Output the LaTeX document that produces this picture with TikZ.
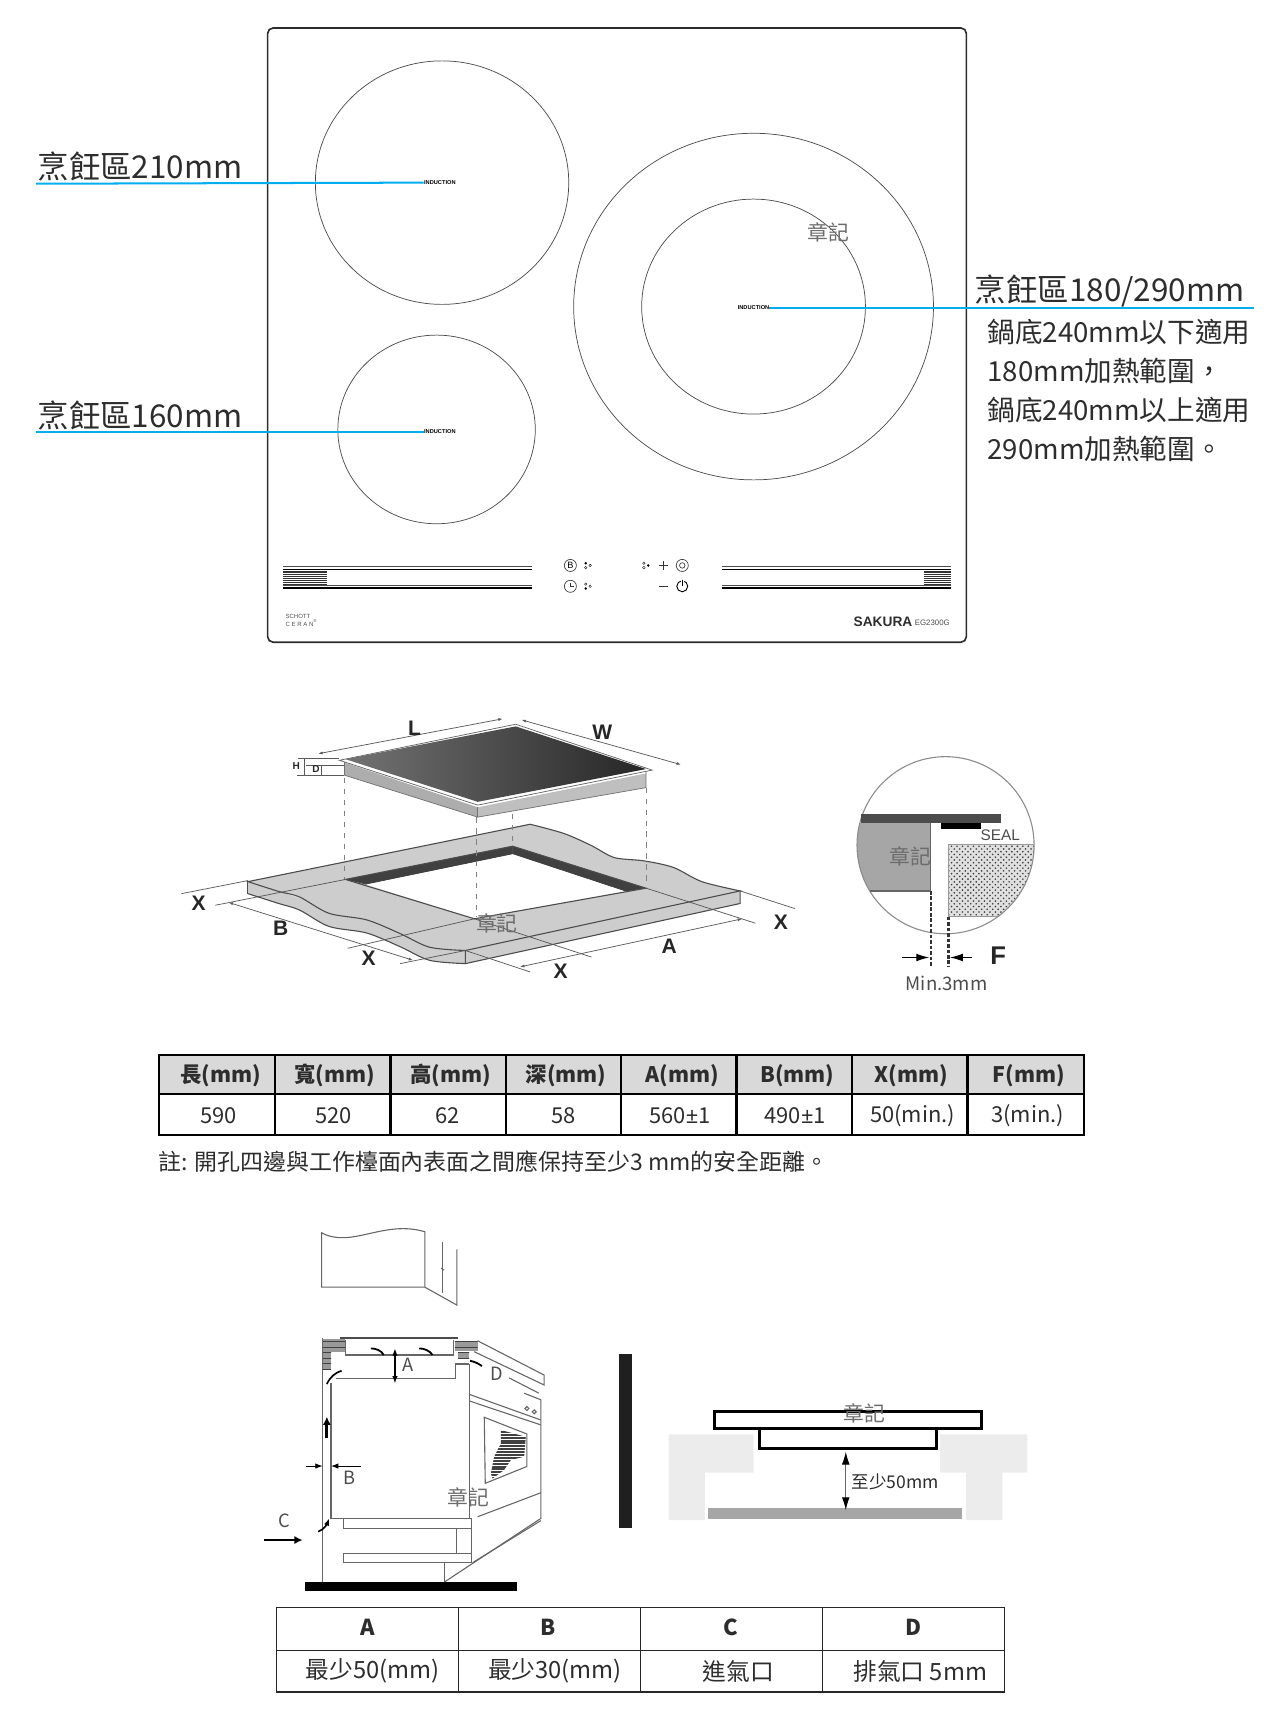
\documentclass[tikz,border=0pt]{standalone}
\usepackage{fontspec}
\usepackage{tikz}
\usepackage{xcolor}
\usetikzlibrary{patterns,arrows.meta}
\setmainfont{Noto Sans CJK TC}
\newfontfamily\arialfont{Liberation Sans}
\newfontfamily\latinfont{Noto Sans}
\definecolor{leaderblue}{RGB}{0,174,239}
\definecolor{inkgray}{RGB}{45,45,45}
\definecolor{cellgray}{RGB}{217,217,217}
\definecolor{wallgray}{RGB}{236,236,236}
\definecolor{counter}{RGB}{205,205,205}

\begin{document}
\begin{tikzpicture}[x=0.6pt,y=-0.6pt,
    smalltip/.tip={Latex[length=2.5pt,width=1.6pt]},
    midtip/.tip={Latex[length=4pt,width=3pt]},
    widetip/.tip={Latex[length=4.5pt,width=4.5pt]},
    bigtip/.tip={Latex[length=7pt,width=4.2pt]},
    leader/.style={leaderblue,line width=1.1pt},
    zonetxt/.style={anchor=west,inner sep=0pt,inkgray,font=\fontsize{17.2}{20}\selectfont},
    induction/.style={inner sep=0pt,font=\arialfont\bfseries\fontsize{3.1}{4}\selectfont},
    stamp/.style={inner sep=0pt,gray!85!black,font=\fontsize{11.4}{13}\selectfont},
    keytxt/.style={inner sep=0pt,black!85,font=\arialfont\bfseries\fontsize{11.5}{13}\selectfont},
    dimline/.style={black!65,line width=0.4pt},
    headtxt/.style={inner sep=0pt,inkgray,font=\bfseries\fontsize{11.7}{14}\selectfont},
    valtxt/.style={inner sep=0pt,inkgray,font=\fontsize{12}{14}\selectfont},
    rowtxt/.style={inner sep=0pt,inkgray,font=\fontsize{13}{15}\selectfont},
    rowhead/.style={inner sep=0pt,inkgray,font=\bfseries\fontsize{12}{15}\selectfont},
    cabline/.style={black!60,line width=0.6pt},
    ventblock/.style={fill=black!45,pattern=horizontal lines,pattern color=black!75},
    lettertxt/.style={inner sep=0pt,black!70,font=\fontsize{10}{12}\selectfont}]
    \useasboundingbox (-1,-0.5) rectangle (1160,1568.5);

    % cooktop panel
    \draw[inkgray,line width=0.9pt,rounded corners=3pt] (243,25) rectangle (880,585);
    \coordinate (zoneA) at (402,166);
    \coordinate (zoneB) at (397,391);
    \coordinate (zoneC) at (686,279);
    \draw[black!70,line width=0.4pt] (zoneA) ellipse [x radius=115.5,y radius=111];
    \draw[black!70,line width=0.4pt] (zoneB) ellipse [x radius=90,y radius=86];
    \draw[black!70,line width=0.4pt] (zoneC) ellipse [x radius=164,y radius=158];
    \draw[black!70,line width=0.4pt] (zoneC) ellipse [x radius=102,y radius=98];
    \node[induction] (indA) at (400,166) {INDUCTION};
    \node[induction] (indB) at (400,393) {INDUCTION};
    \node[induction] (indC) at (686,280) {INDUCTION};

    % zone labels and leaders
    \node[zonetxt] (labA) at (33,151) {烹飪區210mm};
    \node[zonetxt] (labB) at (33,378) {烹飪區160mm};
    \node[zonetxt] (labC) at (887.5,265) {烹飪區180/290mm};
    \coordinate (endA) at (32,167);
    \coordinate (endB) at (32,393);
    \coordinate (endC) at (1142,280);
    \draw[leader] (endA) -- (indA.west);
    \draw[leader] (endB) -- (indB.west);
    \draw[leader] (endC) -- (700,280);
    \node[anchor=north west,inner sep=0pt,align=left,inkgray,
        font=\fontsize{15.1}{21.2}\selectfont] (labNote) at (899,290.5)
        {鍋底240mm以下適用\\180mm加熱範圍，\\鍋底240mm以上適用\\290mm加熱範圍。};
    \node[stamp] (stampA) at (754,211) {章記};

    % slider bars
    \foreach \ya/\yb/\xa/\xb in {516/519/257/484,533/535.5/257/484,516/519/657/866,533/535.5/657/866}{
        \draw[black!70,line width=0.3pt] (\xa,\ya) -- (\xb,\ya);
        \draw[black,line width=0.7pt] (\xa,\yb) -- (\xb,\yb);
    }
    \foreach \y in {520,521.7,523.4,525.1,526.8,528.5,530.2,531.9}{
        \draw[black!80,line width=0.35pt] (257,\y) -- (297,\y);
        \draw[black!80,line width=0.35pt] (841,\y) -- (866,\y);
    }

    % touch keys
    \foreach \x/\y in {519/515,519/534,621/515}{
        \draw[black!80,line width=0.35pt] (\x,\y) circle (5.5);
    }
    \node[inner sep=0pt,font=\arialfont\fontsize{5}{6}\selectfont] (keyB) at (519,515) {B};
    \draw[black!80,line width=0.35pt] (519,531) -- (519,534) -- (522,534);
    \draw[black!80,line width=0.35pt] (621,515) circle (2.5);
    \draw[black,line width=0.5pt] (621,534) circle (5);
    \draw[white,line width=1.4pt] (621,528) -- (621,531);
    \draw[black,line width=0.5pt] (621,528) -- (621,534);
    \draw[black!80,line width=0.4pt] (600,515) -- (608,515) (604,511) -- (604,519);
    \draw[black!80,line width=0.4pt] (600,534) -- (608,534);
    \foreach \x/\y in {533/513,533/536,590/515}{
        \fill (\x,\y) circle (1.3);
    }
    \foreach \x/\y in {533/517,537/515,533/532,537/534,586/513,586/517}{
        \draw[line width=0.2pt] (\x,\y) circle (1.2);
    }

    % brand marks
    \node[anchor=west,inner sep=0pt,align=left,black!70,font=\arialfont\fontsize{3.3}{3.6}\selectfont] (brandA) at (259,565) {SCHOTT\\C E R A N\textsuperscript{®}};
    \node[inner sep=0pt,inkgray,font=\arialfont\bfseries\fontsize{7.5}{8}\selectfont] (brandB) at (804,566) {SAKURA};
    \node[inner sep=0pt,black!70,font=\arialfont\fontsize{4.3}{5}\selectfont] (brandC) at (849,567) {EG2300G};

    % cut-out drawing
    \begin{scope}[scale=0.9966]
        % counter
        \fill[counter] plot[smooth] coordinates {(225.8,817) (254,826) (273,832) (300,847) (334.5,853) (365,865.5) (392,878) (424.7,881)}
            -- (424.7,869) -- (225.8,806) -- cycle;
        \fill[counter] (424.7,881) -- (676,826) -- (676,814.5) -- (424.7,869) -- cycle;
        \draw[black!70,line width=0.6pt,fill=counter] (225.8,806) -- (484,753.5)
            -- plot[smooth] coordinates {(484,753.5) (515,762) (540,773) (561,784) (588,787) (615,793) (641,806) (676,814.5)}
            -- (424.7,869)
            -- plot[smooth] coordinates {(424.7,869) (392,866) (365,853.5) (334.5,841) (300,835) (273,820) (254,815) (225.8,806)}
            -- cycle;
        \draw[black!70,line width=0.6pt] plot[smooth] coordinates {(225.8,817) (254,826) (273,832) (300,847) (334.5,853) (365,865.5) (392,878) (424.7,881)};
        \draw[black!70,line width=0.6pt] (225.8,806) -- (225.8,817);
        \draw[black!70,line width=0.6pt] (424.7,869) -- (424.7,881) -- (676,826) -- (676,814.5);

        % opening
        \fill[black!75] (315,804) -- (468,773.6) -- (590,812) -- (571,815) -- (468,781) -- (334,808.7) -- cycle;
        \fill[white] (334,808.7) -- (468,781) -- (571,815) -- (433,840) -- cycle;
        \draw[black!70,line width=0.6pt] (315,804) -- (468,773.6) -- (590,812) -- (433,840) -- cycle;
        \draw[black!70,line width=0.6pt] (468,773.6) -- (468,781);

        % dimension lines on the counter
        \draw[dimline] (165,817) -- (226,805);
        \draw[dimline] (196,827.6) -- (315,804);
        \draw[dimline,smalltip-smalltip] (208,825) -- (377,878);
        \draw[dimline] (317,867) -- (433,840);
        \draw[dimline] (365,881) -- (424.7,869);
        \draw[dimline] (424.7,869) -- (484,888.6);
        \draw[dimline] (433,840) -- (540,875);
        \draw[dimline] (590,812) -- (690,844);
        \draw[dimline] (676,814.5) -- (726,830.6);
        \draw[dimline,smalltip-smalltip] (474.6,884) -- (678,840);

        % cooktop above the opening
        \fill[black!32] (314,697) -- (436,738) -- (436,747) -- (314,708.6) -- cycle;
        \fill[black!25] (436,738) -- (590,707) -- (590,720) -- (436,747) -- cycle;
        \draw[black!55,line width=0.4pt] (314,708.6) -- (436,747) -- (590,720) -- (590,705);
        \draw[black!55,line width=0.4pt] (314,695) -- (314,708.6) (436,738) -- (436,747);
        \fill[white] (309.5,695) -- (470.8,662) -- (595.6,704) -- (436,736) -- cycle;
        \shade[left color=black!55,right color=black!85] (315,694) -- (470.8,664) -- (590,703) -- (436,733) -- cycle;
        \draw[black!60,line width=0.4pt] (309.5,695) -- (470.8,662) -- (595.6,704) -- (436,736) -- cycle;

        % cooktop sizes
        \draw[dimline,smalltip-smalltip] (290,689) -- (459,657);
        \draw[dimline,smalltip-smalltip] (476,658) -- (622,699);
        \draw[dimline] (272,693) -- (309,693) (271,709) -- (314,709) (279,699.5) -- (314,699.5);
        \draw[dimline] (277,693) -- (277,709) (293,699.5) -- (293,709);
        \node[inner sep=0pt,black!85,font=\arialfont\bfseries\fontsize{5.5}{6}\selectfont] (sizeH) at (270,700) {H};
        \node[inner sep=0pt,black!85,font=\arialfont\bfseries\fontsize{5.5}{6}\selectfont] (sizeD) at (288,703) {D};

        % drop lines
        \draw[dashed,black!50,line width=0.4pt] (314,711) -- (314,804);
        \draw[dashed,black!50,line width=0.4pt] (435,747) -- (435,838);
        \draw[dashed,black!50,line width=0.4pt] (468,744) -- (468,773.6);
        \draw[dashed,black!50,line width=0.4pt] (590,720) -- (590,810);
    \end{scope}
    \node[keytxt] (sizeL) at (377,663) {L};
    \node[keytxt] (sizeW) at (548,667) {W};
    \node[keytxt] (sideXa) at (180,823) {X};
    \node[keytxt] (sideB) at (255,846) {B};
    \node[keytxt] (sideXb) at (335,873) {X};
    \node[keytxt] (sideXc) at (510,885) {X};
    \node[keytxt] (sideA) at (609,862) {A};
    \node[keytxt] (sideXd) at (711,840) {X};
    \node[stamp] (stampB) at (452,841) {章記};

    % seal detail
    \begin{scope}[scale=0.9966]
        \coordinate (lens) at (864,772.7);
        \begin{scope}
            \clip (lens) circle (81);
            \fill[black!35] (780,752) rectangle (850.4,814.5);
            \fill[black!12] (866.6,772) rectangle (950,838);
            \fill[pattern=crosshatch dots,pattern color=black!75] (866.6,772) rectangle (950,838);
            \draw[black!40,line width=0.8pt] (950,772) -- (866.6,772) -- (866.6,838) -- (950,838);
        \end{scope}
        \draw[black!45,line width=0.6pt] (lens) circle (81);
        \fill[black!70] (787,744.4) rectangle (914.5,752.3);
        \fill[black] (859.6,752.3) rectangle (896,757.5);
        \draw[black!60,line width=0.8pt] (850.4,752.3) -- (850.4,814.5) -- (795,814.5);
        \draw[black!80,line width=1.3pt,dash pattern=on 2pt off 1pt] (850.4,814.5) -- (850.4,884);
        \draw[black!80,line width=1.3pt,dash pattern=on 2pt off 1pt] (866.6,838) -- (866.6,884);
        \draw[black,line width=0.6pt,-bigtip] (824.5,875.4) -- (849,875.4);
        \draw[black,line width=0.6pt,-bigtip] (888.5,875.4) -- (868,875.4);
    \end{scope}
    \node[inner sep=0pt,black!70,font=\arialfont\fontsize{8.4}{10}\selectfont] (seal) at (911,761) {SEAL};
    \node[inner sep=0pt,black!85,font=\arialfont\bfseries\fontsize{14}{16}\selectfont] (gapF) at (909,871) {F};
    \node[inner sep=0pt,black!70,font=\fontsize{10.2}{12}\selectfont] (gapMin) at (862,896) {Min.3mm};
    \node[stamp] (stampC) at (829,780) {章記};

    % size table
    \fill[cellgray] (144,961) rectangle (987,997);
    \draw[black,line width=1.2pt] (144,961) rectangle (987,1034);
    \draw[black,line width=1.2pt] (144,997) -- (987,997);
    \foreach \x in {249.5,355,460,565,670.5,776,881}{
        \draw[black,line width=1.2pt] (\x,961) -- (\x,1034);
    }
    \foreach \i/\xh/\xv/\head/\val in {1/200/198/長(mm)/590,2/304/303/寬(mm)/520,3/410/407/高(mm)/62,4/515/513/深(mm)/58,
        5/621/619/A(mm)/560{\latinfont ±}1,6/726/724/B(mm)/490{\latinfont ±}1,7/830/831/X(mm)/50(min.),8/937/936/F(mm)/3(min.)}{
        \node[headtxt] (head\i) at (\xh,980) {\head};
        \node[valtxt] (val\i) at (\xv,1016.5) {\val};
    }
    \node[anchor=west,inner sep=0pt,inkgray,font=\fontsize{12.55}{15}\selectfont] (tablenote) at (143,1058.5)
        {註: 開孔四邊與工作檯面內表面之間應保持至少3 mm的安全距離。};

    % built-in section
    \begin{scope}[scale=0.9966]
        % hood
        \draw[cabline] (293.2,1177) -- (293.2,1127.2) .. controls (320,1142) and (350,1115) .. (387.7,1126.3) -- (387.7,1177) -- cycle;
        \draw[cabline] (387.7,1177) -- (417,1193.4) -- (417,1142.5);
        \draw[cabline] (403.9,1135.5) -- (403.9,1182.7);
        \draw[cabline] (402.5,1159.5) -- (405.3,1161.5);

        % vent blocks
        \fill[black!40] (294.1,1224) rectangle (314.9,1236);
        \fill[black!40] (294.1,1236) rectangle (301.8,1252);
        \fill[black!40] (415,1226) rectangle (435.9,1235);
        \fill[black!40] (418,1236) rectangle (428.2,1242);
        \fill[ventblock] (294.1,1224) rectangle (314.9,1236);
        \fill[ventblock] (294.1,1236) rectangle (301.8,1252);
        \fill[ventblock] (415,1226) rectangle (435.9,1235);
        \fill[ventblock] (418,1236) rectangle (428.2,1242);

        % cabinet
        \draw[cabline] (294.1,1223.8) -- (294.1,1446.4);
        \draw[black!70,line width=1.1pt] (310.3,1223.8) -- (417.6,1223.8);
        \draw[cabline] (314.9,1225.4) -- (314.9,1239) -- (413.6,1239) -- (413.6,1225.4);
        \draw[cabline] (301.8,1265) -- (301.8,1388.4) -- (430.4,1388.4);
        \draw[cabline] (306,1260.4) -- (416,1260.4) -- (416,1247.3) -- (428.2,1247.3);
        \draw[cabline] (313.3,1389) rectangle (430.4,1397.6);
        \draw[cabline] (313.3,1420.4) rectangle (430.4,1429);
        \draw[cabline] (417,1397.6) -- (417,1420.4);
        \draw[cabline] (430.4,1397.6) -- (430.4,1420.4);
        \draw[cabline] (406,1429) -- (406,1446.4);

        % oven
        \draw[cabline] (428.2,1247.3) -- (428.2,1388);
        \draw[cabline] (435.9,1226) -- (496.8,1257.4) -- (496.8,1266.5) -- (432.8,1236);
        \draw[cabline] (464.8,1260) -- (492,1274);
        \draw[cabline] (428.2,1275) -- (493.8,1298.5);
        \draw[cabline] (428.2,1281) -- (493.8,1303);
        \draw[cabline] (478.5,1274) -- (493.8,1280) -- (493.8,1388.5) -- (406,1446.4);
        \draw[cabline] (431.3,1429) -- (493.8,1390.5);
        \draw[cabline] (435.9,1387) -- (493.8,1365);
        \draw[cabline] (481,1288) circle (1.8);
        \draw[cabline] (487.7,1291) circle (1.8);
        \draw[cabline] (442,1296) -- (481,1311.3) -- (481,1341) -- (442.9,1356.4) -- cycle;
        \begin{scope}
            \clip (457.2,1307.7) -- (480,1313.8) -- (478.5,1332) -- (466.3,1335.1) -- (460.2,1344.2) -- (449.6,1352) -- (448,1347.3) -- (451.1,1332) -- (457.2,1320) -- cycle;
            \foreach \y in {1306,1307.4,...,1354}{
                \draw[black!75,line width=0.6pt] (445,\y) -- (482,\y);
            }
        \end{scope}

        % floor
        \fill[black] (278,1446.4) rectangle (471.5,1454.6);

        % air flow
        \draw[black,line width=0.7pt,midtip-midtip] (360.3,1233) -- (360.3,1265);
        \draw[black,line width=0.5pt,-midtip] (278.9,1340.6) -- (294.1,1340.6);
        \draw[black,line width=0.5pt,-midtip] (329,1340.6) -- (301.8,1340.6);
        \draw[black,line width=1.5pt,-widetip] (240.8,1408.3) -- (275.8,1408.3);
        \draw[black,line width=1.5pt,-widetip] (298,1315.3) -- (298,1295.5);
        \draw[black,line width=0.9pt] (298,1265.6) .. controls (301,1259) and (306,1255) .. (311.5,1253.4);
        \draw[black,line width=0.9pt,-midtip] (290,1400.6) .. controls (295,1399) and (298,1394) .. (300.2,1388.4);
        \draw[black,line width=1pt] (338.3,1233) .. controls (343,1233) and (348,1235) .. (350,1239);
        \draw[black,line width=1pt] (382.5,1233) .. controls (387,1233) and (392,1235) .. (394.7,1239);
        \draw[black,line width=1pt] (428.9,1244.3) .. controls (433,1245) and (437,1247) .. (439.9,1249.2);

        % clearance drawing
        \fill[black!88] (564.9,1238.2) rectangle (577,1397.6);
        \fill[wallgray] (610.6,1311.7) -- (688.3,1311.7) -- (688.3,1346.7) -- (643.8,1346.7) -- (643.8,1390) -- (610.6,1390) -- cycle;
        \fill[wallgray] (859,1311.7) -- (938.9,1311.7) -- (938.9,1346.7) -- (916,1346.7) -- (916,1390) -- (882.5,1390) -- (882.5,1346.7) -- (859,1346.7) -- cycle;
        \fill[black!35] (646.8,1378.7) rectangle (879.4,1389.1);
        \draw[black,line width=1.5pt] (652.3,1291) rectangle (897,1306);
        \draw[black,line width=1.5pt] (693.8,1306) -- (693.8,1324.5) -- (855.6,1324.5) -- (855.6,1306);
        \draw[black!60,line width=0.5pt,{Latex[length=7pt,width=4.2pt,black]}-{Latex[length=7pt,width=4.2pt,black]}] (772.7,1327.5) -- (772.7,1380.9);
    \end{scope}
    \node[lettertxt] (airA) at (371,1244) {A};
    \node[lettertxt] (airB) at (318,1347) {B};
    \node[lettertxt] (airC) at (258,1386) {C};
    \node[lettertxt] (airD) at (452,1252) {D};
    \node[stamp] (stampD) at (426,1365) {章記};
    \node[stamp] (stampE) at (787,1288) {章記};
    \node[inner sep=0pt,inkgray,font=\fontsize{9.6}{12}\selectfont] (gapmin) at (815,1350) {至少50mm};

    % ventilation table
    \draw[black!85,line width=0.6pt] (251,1465) rectangle (915,1542);
    \draw[black!85,line width=0.6pt] (251,1504) -- (915,1504);
    \foreach \x in {417,583,749}{
        \draw[black!85,line width=0.6pt] (\x,1465) -- (\x,1542);
    }
    \foreach \i/\xh/\xv/\head/\val in {1/334/339/A/最少50(mm),2/499/505/B/最少30(mm),3/665/672/C/進氣口,4/832/838/D/排氣口 5mm}{
        \node[rowhead] (rowh\i) at (\xh,1483) {\head};
        \node[rowtxt] (rowv\i) at (\xv,1523) {\val};
    }
\end{tikzpicture}
\end{document}
